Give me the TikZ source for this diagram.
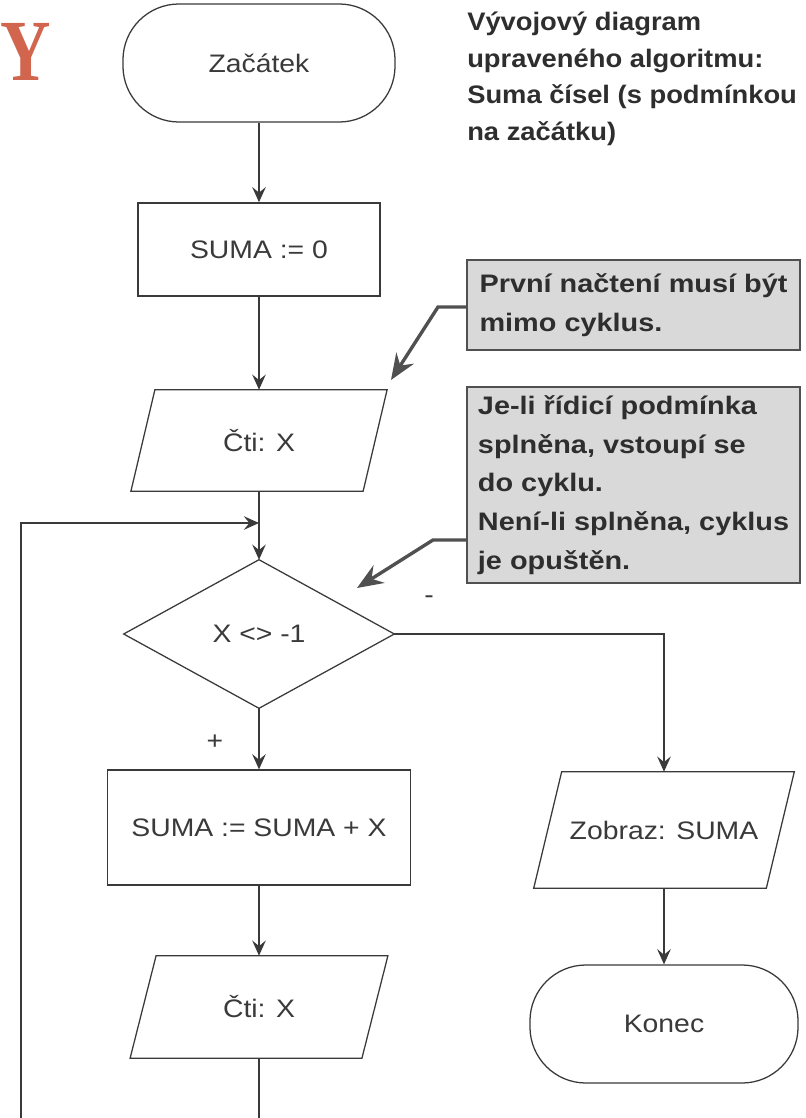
\documentclass[tikz,border=0pt]{standalone}
\usepackage{fontspec}
\setmainfont{Liberation Sans}
\newfontfamily\flowfont{Liberation Sans}[FakeStretch=1.12]
\newfontfamily\notefont{Liberation Sans}[FakeStretch=1.14]
\newfontfamily\headfont{Liberation Sans}[FakeStretch=1.08]
\newfontfamily\letterfont{Liberation Serif}[FakeStretch=0.8]
\usetikzlibrary{arrows.meta,calc}

\definecolor{ink}{HTML}{3A3A3A}
\definecolor{notefill}{HTML}{D9D9D9}
\definecolor{noteedge}{HTML}{505050}
\definecolor{notetext}{HTML}{2E2E2E}
\definecolor{accent}{HTML}{D1654D}

% parallelogram drawn around an (invisible) text node; #2 = half of the slant
\newcommand\ioframe[2]{%
  \draw[flowline] ($(#1.north west)+(#2,0)$) -- ($(#1.north east)+(#2,0)$)
    -- ($(#1.south east)-(#2,0)$) -- ($(#1.south west)-(#2,0)$) -- cycle;}

\begin{document}
\begin{tikzpicture}[x=0.025cm,y=-0.025cm,
  flowline/.style={draw=ink,line width=0.9pt,line join=miter},
  flowtext/.style={text=ink,font=\flowfont\fontsize{18}{21}\selectfont,
    inner sep=0pt,align=center},
  terminal/.style={flowtext,flowline,rectangle,rounded corners=1.4cm},
  process/.style={flowtext,flowline,rectangle},
  iobox/.style={flowtext,rectangle},
  decision/.style={flowtext,rectangle},
  arrow/.style={flowline,-{Stealth[length=3.8mm,width=3.4mm,inset=1.4mm]}},
  note/.style={draw=noteedge,fill=notefill,line width=1.6pt,text=notetext,
    font=\notefont\bfseries\fontsize{18}{27.5}\selectfont,
    align=left,inner sep=0pt,minimum width=8.325cm},
  pointer/.style={draw=noteedge,line width=2.4pt,line join=miter,
    -{Stealth[length=6.5mm,width=5.2mm,inset=2.2mm]}},
  branch/.style={text=ink,font=\flowfont\fontsize{18}{21}\selectfont,inner sep=0pt}
]
\useasboundingbox (0,0) rectangle (806,1118);
\fill[white] (0,0) rectangle (806,1118);

% corner letter
\node[anchor=base west,text=accent,font=\letterfont\bfseries\fontsize{62}{62}\selectfont,inner sep=0pt]
  (letter) at (0,80) {Y};

% heading
\node[anchor=north west,align=left,inner sep=0pt,text=notetext,
  font=\headfont\bfseries\fontsize{18}{26}\selectfont] (title) at (467,12)
  {Vývojový diagram\\upraveného algoritmu:\\Suma čísel (s podmínkou\\na začátku)};

% flowchart nodes
\node[terminal,minimum width=6.8cm,minimum height=2.95cm] (start) at (259,63) {Začátek};
\node[process,minimum width=6.05cm,minimum height=2.33cm] (init) at (259,249.5) {SUMA := 0};
\node[iobox,minimum width=5.79cm,minimum height=2.525cm] (read1) at (259,440.5) {Čti: X};
\ioframe{read1}{12}
\node[decision,minimum width=6.75cm,minimum height=3.7cm] (cond) at (259,634) {X <> -1};
\draw[flowline] (cond.north) -- (cond.east) -- (cond.south) -- (cond.west) -- cycle;
\node[process,minimum width=7.575cm,minimum height=2.875cm] (add) at (259,827.5) {SUMA := SUMA + X};
\node[iobox,minimum width=5.78cm,minimum height=2.55cm] (read2) at (259,1007) {Čti: X};
\ioframe{read2}{13}
\node[iobox,minimum width=5.8cm,minimum height=2.9cm] (show) at (664,830) {Zobraz: SUMA};
\ioframe{show}{14}
\node[terminal,minimum width=6.7cm,minimum height=2.95cm] (stop) at (664,1024) {Konec};

% branch labels
\node[branch] (yes) at (215,742) {+};
\node[branch] (no) at (429,600) {-};

% connectors
\coordinate (join) at (259,523);
\coordinate (loopstart) at (21,1118);
\coordinate (tail) at (259,1118);
\draw[arrow] (start.south) -- (init.north);
\draw[arrow] (init.south) -- (read1.north);
\draw[flowline] (read1.south) -- (join);
\draw[arrow] (join) -- (cond.north);
\draw[arrow] (loopstart) |- (join);
\draw[arrow] (cond.south) -- (add.north);
\draw[arrow] (add.south) -- (read2.north);
\draw[flowline] (read2.south) -- (tail);
\draw[arrow] (cond.east) -| (show.north);
\draw[arrow] (show.south) -- (stop.north);

% explanatory notes
\node[note,minimum height=2.25cm] (note1) at (633.5,305)
  {První načtení musí být\\mimo cyklus.};
\node[note,minimum height=4.9cm] (note2) at (633.5,485)
  {Je-li řídicí podmínka\\splněna, vstoupí se\\do cyklu.\\Není-li splněna, cyklus\\je opuštěn.};

\coordinate (bend1) at (438,307);
\coordinate (tip1) at (391,380);
\coordinate (bend2) at (433,540);
\coordinate (tip2) at (357,588);
\draw[pointer] (note1.west |- bend1) -- (bend1) -- (tip1);
\draw[pointer] (note2.west |- bend2) -- (bend2) -- (tip2);
\end{tikzpicture}
\end{document}
